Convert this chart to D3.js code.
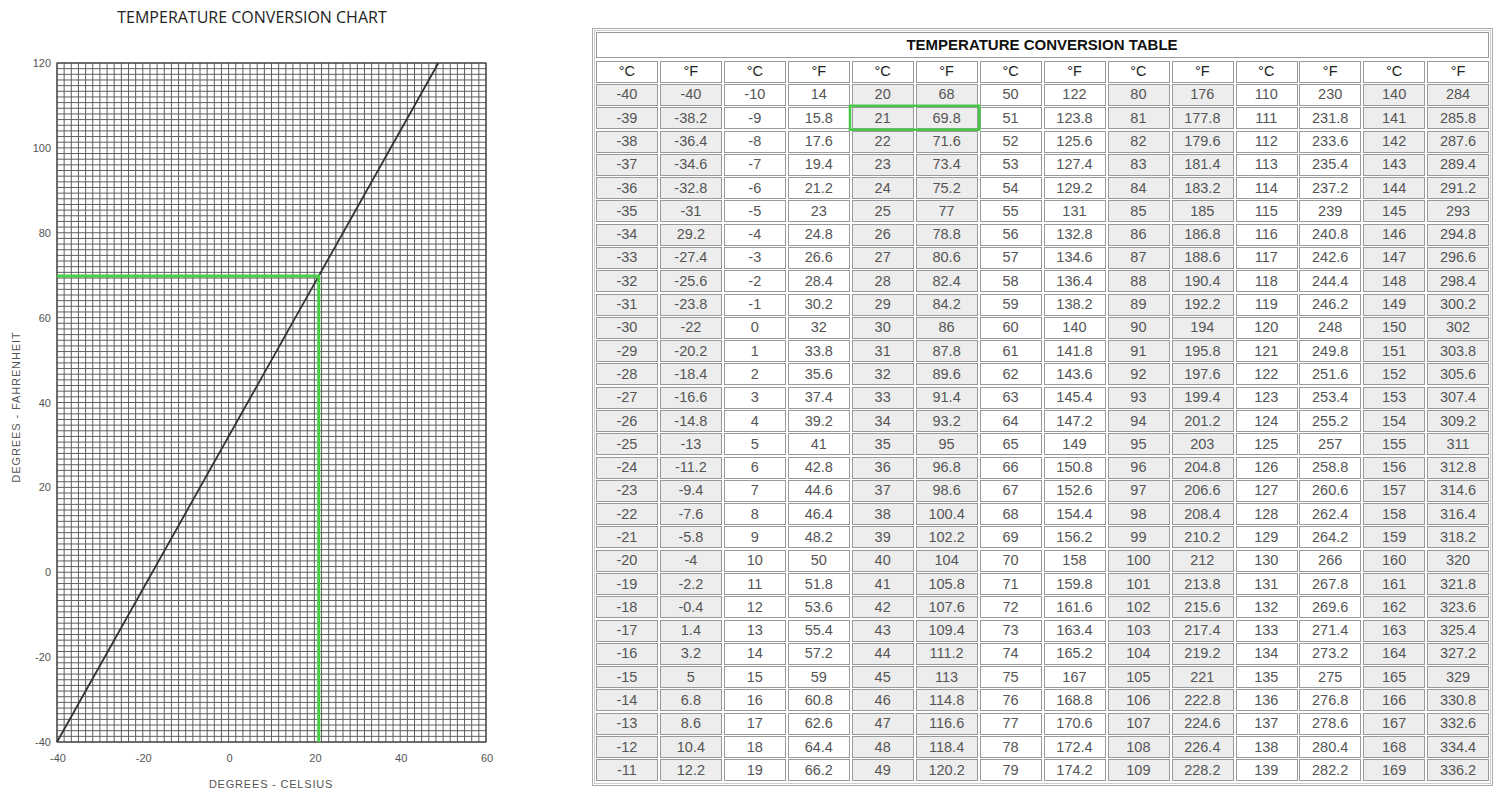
<!DOCTYPE html>
<html>
<head>
<meta charset="utf-8">
<script src="https://cdn.jsdelivr.net/npm/d3@7"></script>
<style>
  html, body { margin: 0; padding: 0; background: #fff; }
  svg { display: block; }
</style>
</head>
<body>
<svg id="chart" width="1500" height="799"></svg>
<script>
// ---------- Chart data ----------
const chartTitle = "TEMPERATURE CONVERSION CHART";
const xTicks = [-40, -20, 0, 20, 40, 60];
const yTicks = [-40, -20, 0, 20, 40, 60, 80, 100, 120];
const xTitle = "DEGREES - CELSIUS";
const yTitle = "DEGREES - FAHRENHEIT";
const lineCelsius = [-40, 48.9];
const lineFahrenheit = [-40, 120];
const highlightCelsius = 21;
const highlightFahrenheit = 69.8;

// ---------- Table data ----------
const tableTitle = "TEMPERATURE CONVERSION TABLE";
const headerLabels = ["°C", "°F"];
const celsiusCols = [
  [-40,-39,-38,-37,-36,-35,-34,-33,-32,-31,-30,-29,-28,-27,-26,-25,-24,-23,-22,-21,-20,-19,-18,-17,-16,-15,-14,-13,-12,-11],
  [-10,-9,-8,-7,-6,-5,-4,-3,-2,-1,0,1,2,3,4,5,6,7,8,9,10,11,12,13,14,15,16,17,18,19],
  [20,21,22,23,24,25,26,27,28,29,30,31,32,33,34,35,36,37,38,39,40,41,42,43,44,45,46,47,48,49],
  [50,51,52,53,54,55,56,57,58,59,60,61,62,63,64,65,66,67,68,69,70,71,72,73,74,75,76,77,78,79],
  [80,81,82,83,84,85,86,87,88,89,90,91,92,93,94,95,96,97,98,99,100,101,102,103,104,105,106,107,108,109],
  [110,111,112,113,114,115,116,117,118,119,120,121,122,123,124,125,126,127,128,129,130,131,132,133,134,135,136,137,138,139],
  [140,141,142,143,144,145,146,147,148,149,150,151,152,153,154,155,156,157,158,159,160,161,162,163,164,165,166,167,168,169]
];
const fahrenheitCols = [
  ["-40","-38.2","-36.4","-34.6","-32.8","-31","29.2","-27.4","-25.6","-23.8","-22","-20.2","-18.4","-16.6","-14.8","-13","-11.2","-9.4","-7.6","-5.8","-4","-2.2","-0.4","1.4","3.2","5","6.8","8.6","10.4","12.2"],
  ["14","15.8","17.6","19.4","21.2","23","24.8","26.6","28.4","30.2","32","33.8","35.6","37.4","39.2","41","42.8","44.6","46.4","48.2","50","51.8","53.6","55.4","57.2","59","60.8","62.6","64.4","66.2"],
  ["68","69.8","71.6","73.4","75.2","77","78.8","80.6","82.4","84.2","86","87.8","89.6","91.4","93.2","95","96.8","98.6","100.4","102.2","104","105.8","107.6","109.4","111.2","113","114.8","116.6","118.4","120.2"],
  ["122","123.8","125.6","127.4","129.2","131","132.8","134.6","136.4","138.2","140","141.8","143.6","145.4","147.2","149","150.8","152.6","154.4","156.2","158","159.8","161.6","163.4","165.2","167","168.8","170.6","172.4","174.2"],
  ["176","177.8","179.6","181.4","183.2","185","186.8","188.6","190.4","192.2","194","195.8","197.6","199.4","201.2","203","204.8","206.6","208.4","210.2","212","213.8","215.6","217.4","219.2","221","222.8","224.6","226.4","228.2"],
  ["230","231.8","233.6","235.4","237.2","239","240.8","242.6","244.4","246.2","248","249.8","251.6","253.4","255.2","257","258.8","260.6","262.4","264.2","266","267.8","269.6","271.4","273.2","275","276.8","278.6","280.4","282.2"],
  ["284","285.8","287.6","289.4","291.2","293","294.8","296.6","298.4","300.2","302","303.8","305.6","307.4","309.2","311","312.8","314.6","316.4","318.2","320","321.8","323.6","325.4","327.2","329","330.8","332.6","334.4","336.2"]
];
const highlightRow = 1;
const highlightPair = 2;

const svg = d3.select("#chart");

// ================= LEFT: CHART =================
const x = d3.scaleLinear().domain([-40, 60]).range([57, 486]);
const y = d3.scaleLinear().domain([-40, 120]).range([742, 63]);

svg.append("text")
  .attr("x", 252).attr("y", 23)
  .attr("text-anchor", "middle")
  .attr("font-family", "'Open Sans', sans-serif")
  .attr("font-size", 16)
  .attr("fill", "#222")
  .text(chartTitle);

const grid = svg.append("g");
const nCols = 60, nRows = 120;
const colStep = 100 / nCols, rowStep = 160 / nRows;
grid.selectAll("line.v").data(d3.range(nCols + 1)).join("line")
  .attr("x1", i => x(-40 + i * colStep)).attr("x2", i => x(-40 + i * colStep))
  .attr("y1", y(-40)).attr("y2", y(120))
  .attr("stroke", "#5e5e5e").attr("stroke-width", 1);
grid.selectAll("line.h").data(d3.range(nRows + 1)).join("line")
  .attr("y1", i => y(-40 + i * rowStep)).attr("y2", i => y(-40 + i * rowStep))
  .attr("x1", x(-40)).attr("x2", x(60))
  .attr("stroke", "#5e5e5e").attr("stroke-width", 1);
grid.append("rect")
  .attr("x", x(-40)).attr("y", y(120))
  .attr("width", x(60) - x(-40)).attr("height", y(-40) - y(120))
  .attr("fill", "none").attr("stroke", "#444").attr("stroke-width", 1.2);

// conversion line
svg.append("path")
  .datum(lineCelsius.map((c, i) => [c, lineFahrenheit[i]]))
  .attr("d", d3.line().x(d => x(d[0])).y(d => y(d[1])))
  .attr("stroke", "#333").attr("stroke-width", 1.8).attr("fill", "none");

// highlight lines
svg.append("path")
  .datum([[-40, highlightFahrenheit], [highlightCelsius, highlightFahrenheit], [highlightCelsius, -40]])
  .attr("d", d3.line().x(d => x(d[0])).y(d => y(d[1])))
  .attr("stroke", "#45d045").attr("stroke-width", 3).attr("fill", "none");

// axes labels
const axisFont = "'Liberation Sans', Arial, sans-serif";
svg.append("g").selectAll("text").data(xTicks).join("text")
  .attr("x", d => x(d) + 1).attr("y", 762)
  .attr("text-anchor", "middle")
  .attr("font-family", axisFont).attr("font-size", 11)
  .attr("fill", "#555")
  .text(d => d);
svg.append("g").selectAll("text").data(yTicks).join("text")
  .attr("x", 51).attr("y", d => y(d) + 4)
  .attr("text-anchor", "end")
  .attr("font-family", axisFont).attr("font-size", 11)
  .attr("fill", "#555")
  .text(d => d);

svg.append("text")
  .attr("x", 271).attr("y", 788)
  .attr("text-anchor", "middle")
  .attr("font-family", axisFont).attr("font-size", 11)
  .attr("letter-spacing", 0.8)
  .attr("fill", "#555")
  .text(xTitle);
svg.append("text")
  .attr("transform", "translate(20,407) rotate(-90)")
  .attr("text-anchor", "middle")
  .attr("font-family", axisFont).attr("font-size", 11)
  .attr("letter-spacing", 0.9)
  .attr("fill", "#555")
  .text(yTitle);

// ================= RIGHT: TABLE =================
const tbl = svg.append("g");
const tableFont = "'Liberation Sans', Arial, sans-serif";
const nPairs = celsiusCols.length;
const nDataRows = celsiusCols[0].length;
const colX = d3.scaleBand().domain(d3.range(nPairs * 2)).range([595, 1490]).paddingInner(0.04).paddingOuter(0.02);
const rowY = d3.scaleBand().domain(d3.range(-1, nDataRows)).range([60, 781]).paddingInner(0.1).paddingOuter(0.03);

// outer frame
tbl.append("rect").attr("x", 592.5).attr("y", 28.5).attr("width", 900).attr("height", 757)
  .attr("fill", "#fff").attr("stroke", "#aaa").attr("stroke-width", 1);
tbl.append("rect").attr("x", 594.5).attr("y", 30.5).attr("width", 896).attr("height", 753)
  .attr("fill", "none").attr("stroke", "#ccc").attr("stroke-width", 1);
// title cell
tbl.append("rect").attr("x", 596.5).attr("y", 32.5).attr("width", 892).attr("height", 25)
  .attr("fill", "#fff").attr("stroke", "#999").attr("stroke-width", 1);
tbl.append("text").attr("x", 1042).attr("y", 49.5)
  .attr("text-anchor", "middle")
  .attr("font-family", tableFont).attr("font-size", 15).attr("font-weight", "bold")
  .attr("fill", "#111")
  .text(tableTitle);

// cells
const cells = [];
for (let p = 0; p < nPairs; p++) {
  for (let k = 0; k < 2; k++) {
    const col = p * 2 + k;
    cells.push({ col, row: -1, text: headerLabels[k], shade: false, header: true });
    for (let r = 0; r < nDataRows; r++) {
      const v = k === 0 ? String(celsiusCols[p][r]) : fahrenheitCols[p][r];
      cells.push({ col, row: r, text: v, shade: p % 2 === 0, header: false });
    }
  }
}
const cg = tbl.selectAll("g.cell").data(cells).join("g").attr("class", "cell");
cg.append("rect")
  .attr("x", d => Math.round(colX(d.col)) + 0.5)
  .attr("y", d => Math.round(rowY(d.row)) + 0.5)
  .attr("width", Math.round(colX.bandwidth()))
  .attr("height", Math.round(rowY.bandwidth()))
  .attr("fill", d => d.shade ? "#ededed" : "#fff")
  .attr("stroke", "#9a9a9a").attr("stroke-width", 1);
cg.append("text")
  .attr("x", d => colX(d.col) + colX.bandwidth() / 2)
  .attr("y", d => rowY(d.row) + rowY.bandwidth() / 2 + 5)
  .attr("text-anchor", "middle")
  .attr("font-family", tableFont).attr("font-size", 14.5)
  .attr("fill", d => d.header ? "#222" : "#555")
  .text(d => d.text);

// highlight box
const hx0 = colX(highlightPair * 2) - 2, hx1 = colX(highlightPair * 2 + 1) + colX.bandwidth() + 2;
tbl.append("rect")
  .attr("x", hx0).attr("y", rowY(highlightRow) - 1.5)
  .attr("width", hx1 - hx0).attr("height", rowY.bandwidth() + 3)
  .attr("fill", "none").attr("stroke", "#45c945").attr("stroke-width", 2.5);
</script>
</body>
</html>
